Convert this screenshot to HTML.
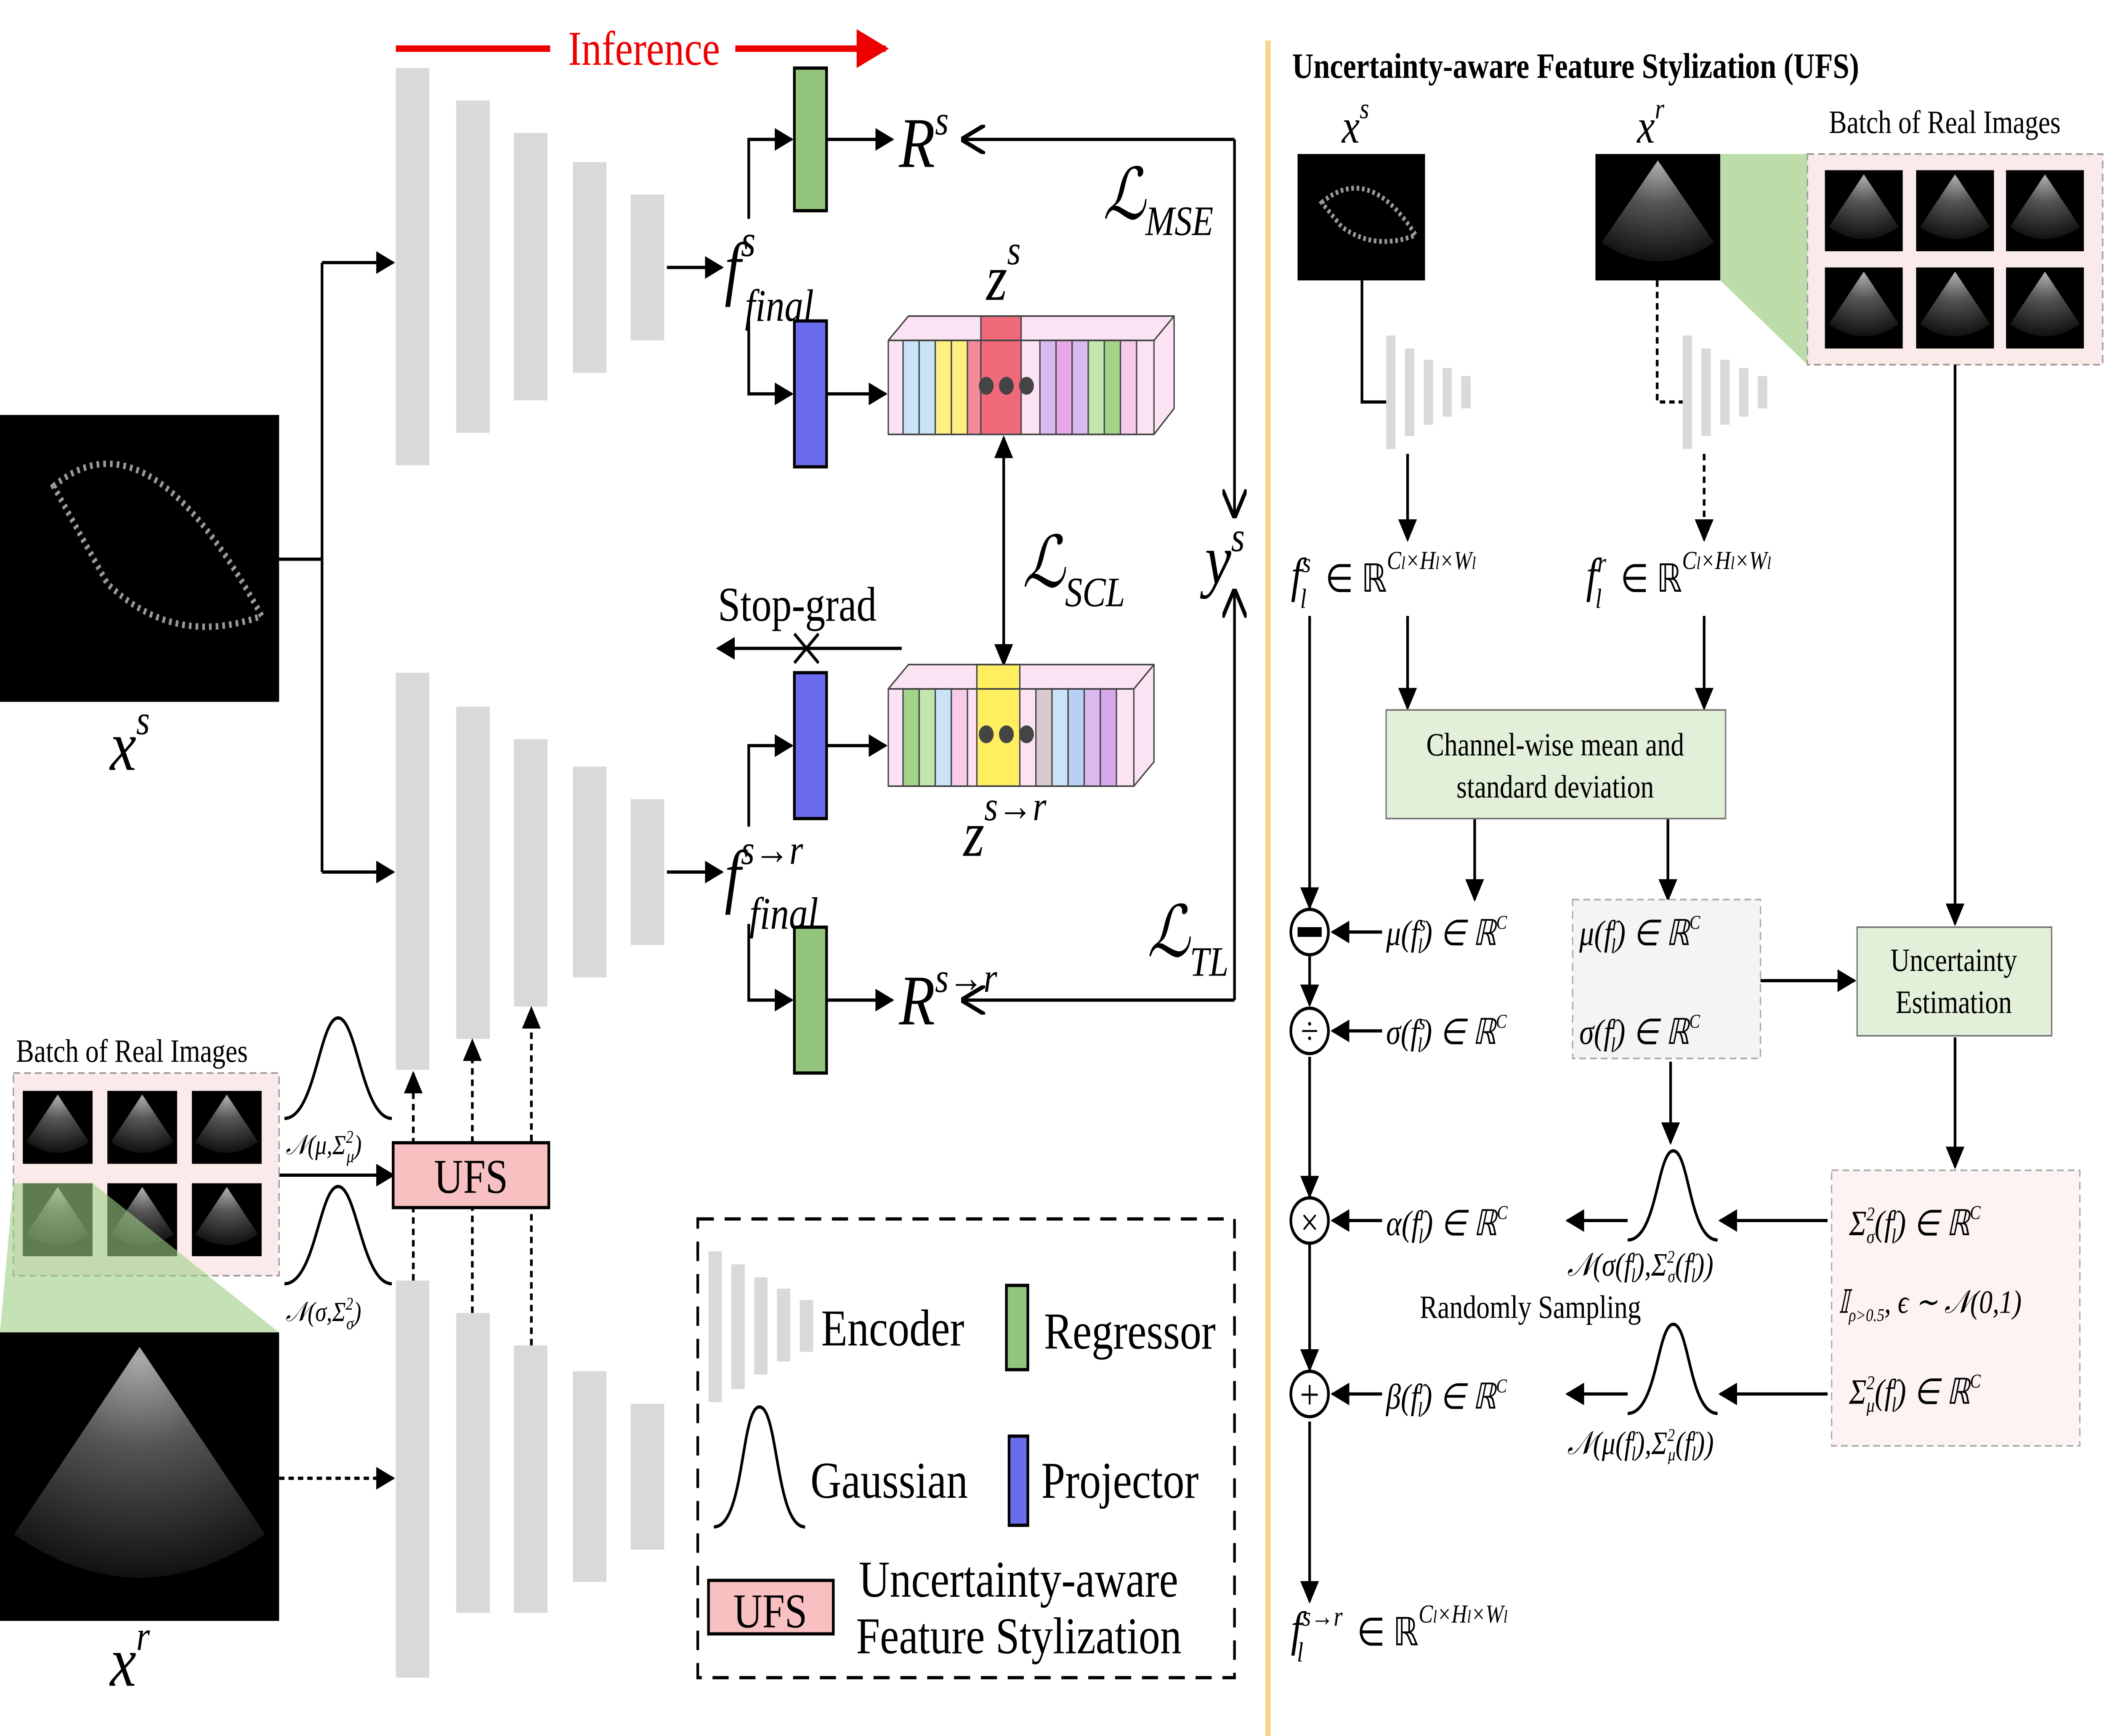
<!DOCTYPE html>
<html><head><meta charset="utf-8"><style>
html,body{margin:0;padding:0;background:#fff;overflow:hidden;width:100%;height:100%;}
svg{display:block;width:100vw;height:100vh;}
text{font-family:"Liberation Serif",serif;fill:#000;}
.it{font-style:italic;}
</style></head><body>
<svg viewBox="0 0 1568 1071" preserveAspectRatio="none" xmlns="http://www.w3.org/2000/svg">
<defs>
<marker id="ah" viewBox="0 0 10 10" refX="9" refY="5" markerWidth="7" markerHeight="7" orient="auto-start-reverse"><path d="M0,0 L10,5 L0,10 z" fill="#000"/></marker>
<marker id="oa" viewBox="0 0 10 10" refX="9" refY="5" markerWidth="9" markerHeight="9" orient="auto-start-reverse"><path d="M0,0 L10,5 L0,10" fill="none" stroke="#000" stroke-width="1.5"/></marker>
<marker id="ra" viewBox="0 0 10 10" refX="9" refY="5" markerWidth="6" markerHeight="6" orient="auto"><path d="M0,0 L10,5 L0,10 z" fill="#e00"/></marker>
<radialGradient id="us" cx="0.5" cy="0.05" r="0.95"><stop offset="0" stop-color="#aaa"/><stop offset="0.4" stop-color="#555"/><stop offset="1" stop-color="#111"/></radialGradient>
<g id="usimg"><rect width="100" height="100" fill="#000"/><path d="M50,5 L5,70 Q50,100 95,70 Z" fill="url(#us)"/></g>
</defs>
<rect width="1568" height="1071" fill="#fff"/>

<g><rect x="0" y="256" width="208" height="177" fill="#000"/><path d="M40,300 Q110,250 195,380 Q130,400 80,360 Z" fill="none" stroke="#999" stroke-width="4" stroke-dasharray="2 3"/></g>
<text x="82" y="475" font-size="44" class="it">x<tspan font-size="26" dy="-22">s</tspan></text>

<g fill="#d9d9d9">
<rect x="295" y="42" width="25" height="245"/><rect x="340" y="62" width="25" height="205"/><rect x="383" y="82" width="25" height="165"/><rect x="427" y="100" width="25" height="130"/><rect x="470" y="120" width="25" height="90"/></g>
<g fill="#d9d9d9">
<rect x="295" y="415" width="25" height="245"/><rect x="340" y="436" width="25" height="205"/><rect x="383" y="456" width="25" height="165"/><rect x="427" y="473" width="25" height="130"/><rect x="470" y="493" width="25" height="90"/></g>
<g fill="#d9d9d9">
<rect x="295" y="790" width="25" height="245"/><rect x="340" y="810" width="25" height="185"/><rect x="383" y="830" width="25" height="165"/><rect x="427" y="846" width="25" height="130"/><rect x="470" y="866" width="25" height="90"/></g>

<line x1="295" y1="30" x2="410" y2="30" stroke="#e00" stroke-width="4"/>
<line x1="548" y1="30" x2="660" y2="30" stroke="#e00" stroke-width="4" marker-end="url(#ra)"/>
<text x="480" y="40" font-size="30" style="fill:#e00" text-anchor="middle">Inference</text>

<g stroke="#000" stroke-width="2" fill="none">
<line x1="208" y1="345" x2="240" y2="345"/>
<line x1="240" y1="162" x2="240" y2="538"/>
<line x1="240" y1="162" x2="293" y2="162" marker-end="url(#ah)"/>
<line x1="240" y1="538" x2="293" y2="538" marker-end="url(#ah)"/>
<line x1="497" y1="165" x2="538" y2="165" marker-end="url(#ah)"/>
<line x1="497" y1="538" x2="538" y2="538" marker-end="url(#ah)"/>
<polyline points="558,135 558,86 590,86" marker-end="url(#ah)"/>
<polyline points="558,195 558,243 590,243" marker-end="url(#ah)"/>
<polyline points="558,510 558,460 590,460" marker-end="url(#ah)"/>
<polyline points="558,570 558,617 590,617" marker-end="url(#ah)"/>
<line x1="616" y1="86" x2="665" y2="86" marker-end="url(#ah)"/>
<line x1="616" y1="243" x2="660" y2="243" marker-end="url(#ah)"/>
<line x1="616" y1="460" x2="660" y2="460" marker-end="url(#ah)"/>
<line x1="616" y1="617" x2="665" y2="617" marker-end="url(#ah)"/>
<polyline points="920,86 718,86" marker-end="url(#oa)"/>
<polyline points="920,86 920,318" marker-end="url(#oa)"/>
<polyline points="920,617 718,617" marker-end="url(#oa)"/>
<polyline points="920,617 920,365" marker-end="url(#oa)"/>
<line x1="748" y1="270" x2="748" y2="410" marker-start="url(#ah)" marker-end="url(#ah)"/>
<line x1="672" y1="400" x2="535" y2="400" marker-end="url(#ah)"/>
<line x1="592" y1="391" x2="610" y2="409"/><line x1="610" y1="391" x2="592" y2="409"/>
<line x1="208" y1="912" x2="293" y2="912" stroke-dasharray="4 3" marker-end="url(#ah)"/>
<line x1="208" y1="725" x2="293" y2="725" marker-end="url(#ah)"/>
<line x1="308" y1="790" x2="308" y2="662" stroke-dasharray="4 3" marker-end="url(#ah)"/>
<line x1="352" y1="810" x2="352" y2="642" stroke-dasharray="4 3" marker-end="url(#ah)"/>
<line x1="396" y1="830" x2="396" y2="622" stroke-dasharray="4 3" marker-end="url(#ah)"/>
</g>

<rect x="592" y="42" width="24" height="88" fill="#92c47c" stroke="#000" stroke-width="2"/>
<rect x="592" y="198" width="24" height="90" fill="#6b6bf0" stroke="#000" stroke-width="2"/>
<rect x="592" y="415" width="24" height="90" fill="#6b6bf0" stroke="#000" stroke-width="2"/>
<rect x="592" y="572" width="24" height="90" fill="#92c47c" stroke="#000" stroke-width="2"/>

<text x="540" y="180" font-size="44" class="it">f<tspan font-size="28" dy="-22">s</tspan><tspan font-size="28" dx="-8" dy="40">final</tspan></text>
<text x="540" y="555" font-size="44" class="it">f<tspan font-size="26" dy="-22">s→r</tspan><tspan font-size="28" dx="-40" dy="40">final</tspan></text>
<text x="670" y="103" font-size="44" class="it">R<tspan font-size="26" dy="-20">s</tspan></text>
<text x="670" y="632" font-size="44" class="it">R<tspan font-size="26" dy="-20">s→r</tspan></text>
<text x="735" y="185" font-size="40" class="it">z<tspan font-size="26" dy="-22">s</tspan></text>
<text x="718" y="528" font-size="40" class="it">z<tspan font-size="26" dy="-22">s→r</tspan></text>
<text x="822" y="135" font-size="44" class="it">ℒ<tspan font-size="26" dy="10">MSE</tspan></text>
<text x="762" y="362" font-size="44" class="it">ℒ<tspan font-size="26" dy="12">SCL</tspan></text>
<text x="855" y="590" font-size="44" class="it">ℒ<tspan font-size="26" dy="12">TL</tspan></text>
<text x="898" y="360" font-size="44" class="it">y<tspan font-size="26" dy="-20">s</tspan></text>
<text x="535" y="383" font-size="30">Stop-grad</text>

<g stroke="#444" stroke-width="1">
<path d="M662,210 L677,195 L875,195 L875,252 L860,268 L662,268 Z" fill="#fbe3f3"/>
<rect x="673" y="210" width="12" height="58" fill="#c9e3f7"/><rect x="685" y="210" width="12" height="58" fill="#c9e3f7"/><rect x="697" y="210" width="12" height="58" fill="#ffef80"/><rect x="709" y="210" width="12" height="58" fill="#ffef80"/><rect x="721" y="210" width="10" height="58" fill="#f38b9a"/>
<rect x="731" y="195" width="30" height="73" fill="#f06a7a"/>
<rect x="775" y="210" width="12" height="58" fill="#dab8f0"/><rect x="787" y="210" width="12" height="58" fill="#e6a8e6"/><rect x="799" y="210" width="12" height="58" fill="#dab8f0"/><rect x="811" y="210" width="12" height="58" fill="#c3e5b0"/><rect x="823" y="210" width="12" height="58" fill="#a3d48a"/><rect x="835" y="210" width="12" height="58" fill="#f8cce8"/>
<path d="M662,210 L860,210 L875,195 M860,210 L860,268" fill="none"/>
<circle cx="735" cy="238" r="5" fill="#444"/><circle cx="750" cy="238" r="5" fill="#444"/><circle cx="765" cy="238" r="5" fill="#444"/>
</g>
<g stroke="#444" stroke-width="1">
<path d="M662,425 L677,410 L860,410 L860,470 L845,485 L662,485 Z" fill="#fbe3f3"/>
<rect x="673" y="425" width="12" height="60" fill="#a3d48a"/><rect x="685" y="425" width="12" height="60" fill="#c3e5b0"/><rect x="697" y="425" width="12" height="60" fill="#c9e3f7"/><rect x="709" y="425" width="12" height="60" fill="#f8cce8"/>
<rect x="728" y="410" width="32" height="75" fill="#ffef60"/>
<rect x="772" y="425" width="12" height="60" fill="#d8c8d0"/><rect x="784" y="425" width="12" height="60" fill="#c9e3f7"/><rect x="796" y="425" width="12" height="60" fill="#b8d0f5"/><rect x="808" y="425" width="12" height="60" fill="#dab8f0"/><rect x="820" y="425" width="12" height="60" fill="#d8a8ec"/>
<path d="M662,425 L845,425 L860,410 M845,425 L845,485" fill="none"/>
<circle cx="735" cy="453" r="5" fill="#444"/><circle cx="750" cy="453" r="5" fill="#444"/><circle cx="765" cy="453" r="5" fill="#444"/>
</g>

<text x="12" y="655" font-size="20">Batch of Real Images</text>
<rect x="10" y="662" width="198" height="125" fill="#fbeaea" stroke="#999" stroke-dasharray="5 3"/>
<g>
<use href="#usimg" transform="translate(17,673) scale(0.52,0.45)"/><use href="#usimg" transform="translate(80,673) scale(0.52,0.45)"/><use href="#usimg" transform="translate(143,673) scale(0.52,0.45)"/>
<use href="#usimg" transform="translate(17,730) scale(0.52,0.45)"/><use href="#usimg" transform="translate(80,730) scale(0.52,0.45)"/><use href="#usimg" transform="translate(143,730) scale(0.52,0.45)"/>
</g>
<path d="M10,730 L69,730 L208,822 L0,822 Z" fill="#9fcf85" opacity="0.6"/>
<use href="#usimg" transform="translate(0,822) scale(2.08,1.78)"/>
<text x="82" y="1040" font-size="44" class="it">x<tspan font-size="26" dy="-22">r</tspan></text>

<path d="M212,690 C235,690 238,628 252,628 C266,628 270,690 292,690" fill="none" stroke="#000" stroke-width="2"/>
<path d="M212,792 C235,792 238,732 252,732 C266,732 270,792 292,792" fill="none" stroke="#000" stroke-width="2"/>
<text x="213" y="712" font-size="17" class="it">𝒩(μ,Σ<tspan font-size="11" dy="-7">2</tspan><tspan font-size="11" dy="12" dx="-5">μ</tspan><tspan dy="-5">)</tspan></text>
<text x="213" y="815" font-size="17" class="it">𝒩(σ,Σ<tspan font-size="11" dy="-7">2</tspan><tspan font-size="11" dy="12" dx="-5">σ</tspan><tspan dy="-5">)</tspan></text>
<rect x="293" y="705" width="116" height="40" fill="#f8c0c0" stroke="#000" stroke-width="2"/>
<text x="351" y="736" font-size="30" text-anchor="middle">UFS</text>

<g>
<rect x="520" y="752" width="400" height="283" fill="none" stroke="#000" stroke-width="2" stroke-dasharray="12 8"/>
<g fill="#d9d9d9"><rect x="528" y="772" width="10" height="93"/><rect x="545" y="780" width="10" height="77"/><rect x="562" y="788" width="10" height="60"/><rect x="579" y="795" width="10" height="45"/><rect x="596" y="802" width="10" height="32"/></g>
<text x="612" y="830" font-size="32">Encoder</text>
<rect x="750" y="793" width="16" height="52" fill="#92c47c" stroke="#000" stroke-width="2"/>
<text x="778" y="832" font-size="32">Regressor</text>
<path d="M532,942 C555,942 552,868 566,868 C580,868 578,942 600,942" fill="none" stroke="#000" stroke-width="2"/>
<text x="604" y="924" font-size="32">Gaussian</text>
<rect x="752" y="886" width="14" height="55" fill="#6b6bf0" stroke="#000" stroke-width="2"/>
<text x="776" y="924" font-size="32">Projector</text>
<rect x="528" y="975" width="93" height="33" fill="#f8c0c0" stroke="#000" stroke-width="2"/>
<text x="574" y="1004" font-size="30" text-anchor="middle">UFS</text>
<text x="640" y="985" font-size="32">Uncertainty-aware</text>
<text x="638" y="1020" font-size="32">Feature Stylization</text>
</g>

<line x1="945" y1="25" x2="945" y2="1071" stroke="#f5d58a" stroke-width="4"/>

<text x="963" y="48" font-size="22" font-weight="bold">Uncertainty-aware Feature Stylization (UFS)</text>
<text x="1000" y="88" font-size="30" class="it">x<tspan font-size="18" dy="-15">s</tspan></text>
<text x="1220" y="88" font-size="30" class="it">x<tspan font-size="18" dy="-15">r</tspan></text>
<text x="1363" y="82" font-size="20">Batch of Real Images</text>
<g><rect x="967" y="95" width="95" height="78" fill="#000"/><path d="M985,125 Q1020,100 1055,145 Q1025,155 1000,140 Z" fill="none" stroke="#999" stroke-width="3" stroke-dasharray="2 2"/></g>
<use href="#usimg" transform="translate(1189,95) scale(0.93,0.78)"/>
<path d="M1282,95 L1347,95 L1347,225 L1282,173 Z" fill="#9fcf85" opacity="0.7"/>
<rect x="1347" y="95" width="220" height="130" fill="#fbeaea" stroke="#999" stroke-dasharray="5 3"/>
<g>
<use href="#usimg" transform="translate(1360,105) scale(0.58,0.5)"/><use href="#usimg" transform="translate(1428,105) scale(0.58,0.5)"/><use href="#usimg" transform="translate(1495,105) scale(0.58,0.5)"/>
<use href="#usimg" transform="translate(1360,165) scale(0.58,0.5)"/><use href="#usimg" transform="translate(1428,165) scale(0.58,0.5)"/><use href="#usimg" transform="translate(1495,165) scale(0.58,0.5)"/>
</g>
<g fill="#d9d9d9"><rect x="1033" y="207" width="7" height="70"/><rect x="1047" y="215" width="7" height="54"/><rect x="1061" y="222" width="7" height="40"/><rect x="1075" y="227" width="7" height="30"/><rect x="1089" y="232" width="7" height="20"/>
<rect x="1254" y="207" width="7" height="70"/><rect x="1268" y="215" width="7" height="54"/><rect x="1282" y="222" width="7" height="40"/><rect x="1296" y="227" width="7" height="30"/><rect x="1310" y="232" width="7" height="20"/></g>
<g stroke="#000" stroke-width="2" fill="none">
<polyline points="1015,173 1015,248 1033,248"/>
<polyline points="1235,173 1235,248 1254,248" stroke-dasharray="4 3"/>
<line x1="1049" y1="280" x2="1049" y2="333" marker-end="url(#ah)"/>
<line x1="1270" y1="280" x2="1270" y2="333" stroke-dasharray="4 3" marker-end="url(#ah)"/>
<line x1="1049" y1="380" x2="1049" y2="437" marker-end="url(#ah)"/>
<line x1="1270" y1="380" x2="1270" y2="437" marker-end="url(#ah)"/>
<line x1="1457" y1="225" x2="1457" y2="570" marker-end="url(#ah)"/>
<line x1="1099" y1="505" x2="1099" y2="555" marker-end="url(#ah)"/>
<line x1="1243" y1="505" x2="1243" y2="555" marker-end="url(#ah)"/>
<line x1="976" y1="380" x2="976" y2="560" marker-end="url(#ah)"/>
<line x1="976" y1="590" x2="976" y2="620" marker-end="url(#ah)"/>
<line x1="976" y1="652" x2="976" y2="738" marker-end="url(#ah)"/>
<line x1="976" y1="768" x2="976" y2="845" marker-end="url(#ah)"/>
<line x1="976" y1="877" x2="976" y2="988" marker-end="url(#ah)"/>
<line x1="1030" y1="575" x2="993" y2="575" marker-end="url(#ah)"/>
<line x1="1030" y1="636" x2="993" y2="636" marker-end="url(#ah)"/>
<line x1="1030" y1="753" x2="993" y2="753" marker-end="url(#ah)"/>
<line x1="1030" y1="860" x2="993" y2="860" marker-end="url(#ah)"/>
<line x1="1312" y1="605" x2="1382" y2="605" marker-end="url(#ah)"/>
<line x1="1245" y1="655" x2="1245" y2="705" marker-end="url(#ah)"/>
<line x1="1457" y1="640" x2="1457" y2="720" marker-end="url(#ah)"/>
<line x1="1362" y1="753" x2="1282" y2="753" marker-end="url(#ah)"/>
<line x1="1362" y1="860" x2="1282" y2="860" marker-end="url(#ah)"/>
<line x1="1213" y1="753" x2="1168" y2="753" marker-end="url(#ah)"/>
<line x1="1213" y1="860" x2="1168" y2="860" marker-end="url(#ah)"/>
<path d="M1213,765 C1235,765 1235,710 1247,710 C1259,710 1259,765 1280,765"/>
<path d="M1213,872 C1235,872 1235,817 1247,817 C1259,817 1259,872 1280,872"/>
<circle cx="976" cy="575" r="14"/><circle cx="976" cy="636" r="14"/><circle cx="976" cy="753" r="14"/><circle cx="976" cy="860" r="14"/>
</g>
<rect x="967" y="572" width="18" height="6" fill="#000"/>
<text x="976" y="644" font-size="24" text-anchor="middle">÷</text>
<text x="976" y="762" font-size="24" text-anchor="middle">×</text>
<text x="976" y="869" font-size="26" text-anchor="middle">+</text>

<text x="962" y="365" font-size="30" class="it">f<tspan font-size="17" dy="-12">s</tspan><tspan font-size="17" dx="-8" dy="22">l</tspan><tspan dx="14" dy="-10" font-style="normal" font-size="24">∈ ℝ</tspan><tspan font-size="16" dy="-14">C</tspan><tspan font-size="11">l</tspan><tspan font-size="16">×H</tspan><tspan font-size="11">l</tspan><tspan font-size="16">×W</tspan><tspan font-size="11">l</tspan></text>
<text x="1182" y="365" font-size="30" class="it">f<tspan font-size="17" dy="-12">r</tspan><tspan font-size="17" dx="-8" dy="22">l</tspan><tspan dx="14" dy="-10" font-style="normal" font-size="24">∈ ℝ</tspan><tspan font-size="16" dy="-14">C</tspan><tspan font-size="11">l</tspan><tspan font-size="16">×H</tspan><tspan font-size="11">l</tspan><tspan font-size="16">×W</tspan><tspan font-size="11">l</tspan></text>

<rect x="1033" y="438" width="253" height="67" fill="#e2efd9" stroke="#777"/>
<text x="1159" y="466" font-size="20" text-anchor="middle">Channel-wise mean and</text>
<text x="1159" y="492" font-size="20" text-anchor="middle">standard deviation</text>

<rect x="1172" y="555" width="140" height="98" fill="#f4f4f4" stroke="#aaa" stroke-dasharray="5 3"/>
<text x="1033" y="583" font-size="22" class="it">μ(f<tspan font-size="13" dy="-9">s</tspan><tspan font-size="13" dx="-6" dy="14">l</tspan><tspan dy="-5">) ∈ ℝ</tspan><tspan font-size="12" dy="-10">C</tspan></text>
<text x="1033" y="644" font-size="22" class="it">σ(f<tspan font-size="13" dy="-9">s</tspan><tspan font-size="13" dx="-6" dy="14">l</tspan><tspan dy="-5">) ∈ ℝ</tspan><tspan font-size="12" dy="-10">C</tspan></text>
<text x="1177" y="583" font-size="22" class="it">μ(f<tspan font-size="13" dy="-9">r</tspan><tspan font-size="13" dx="-6" dy="14">l</tspan><tspan dy="-5">) ∈ ℝ</tspan><tspan font-size="12" dy="-10">C</tspan></text>
<text x="1177" y="644" font-size="22" class="it">σ(f<tspan font-size="13" dy="-9">r</tspan><tspan font-size="13" dx="-6" dy="14">l</tspan><tspan dy="-5">) ∈ ℝ</tspan><tspan font-size="12" dy="-10">C</tspan></text>

<rect x="1384" y="572" width="145" height="67" fill="#e2efd9" stroke="#777"/>
<text x="1456" y="599" font-size="20" text-anchor="middle">Uncertainty</text>
<text x="1456" y="625" font-size="20" text-anchor="middle">Estimation</text>

<rect x="1365" y="722" width="185" height="170" fill="#fdf3f3" stroke="#aaa" stroke-dasharray="5 3"/>
<text x="1378" y="762" font-size="22" class="it">Σ<tspan font-size="12" dy="-9">2</tspan><tspan font-size="12" dx="-6" dy="14">σ</tspan><tspan dy="-5">(f</tspan><tspan font-size="13" dy="-9">r</tspan><tspan font-size="13" dx="-6" dy="14">l</tspan><tspan dy="-5">) ∈ ℝ</tspan><tspan font-size="12" dy="-10">C</tspan></text>
<text x="1370" y="810" font-size="20" class="it">𝕀<tspan font-size="11" dy="5">ρ&gt;0.5</tspan><tspan dy="-5">, ϵ ∼ 𝒩(0,1)</tspan></text>
<text x="1378" y="866" font-size="22" class="it">Σ<tspan font-size="12" dy="-9">2</tspan><tspan font-size="12" dx="-6" dy="14">μ</tspan><tspan dy="-5">(f</tspan><tspan font-size="13" dy="-9">r</tspan><tspan font-size="13" dx="-6" dy="14">l</tspan><tspan dy="-5">) ∈ ℝ</tspan><tspan font-size="12" dy="-10">C</tspan></text>

<text x="1033" y="762" font-size="22" class="it">α(f<tspan font-size="13" dy="-9">r</tspan><tspan font-size="13" dx="-6" dy="14">l</tspan><tspan dy="-5">) ∈ ℝ</tspan><tspan font-size="12" dy="-10">C</tspan></text>
<text x="1033" y="869" font-size="22" class="it">β(f<tspan font-size="13" dy="-9">r</tspan><tspan font-size="13" dx="-6" dy="14">l</tspan><tspan dy="-5">) ∈ ℝ</tspan><tspan font-size="12" dy="-10">C</tspan></text>
<text x="1168" y="787" font-size="20" class="it">𝒩(σ(f<tspan font-size="12" dy="-8">r</tspan><tspan font-size="12" dx="-5" dy="12">l</tspan><tspan dy="-4">),Σ</tspan><tspan font-size="11" dy="-8">2</tspan><tspan font-size="11" dx="-5" dy="12">σ</tspan><tspan dy="-4">(f</tspan><tspan font-size="12" dy="-8">r</tspan><tspan font-size="12" dx="-5" dy="12">l</tspan><tspan dy="-4">))</tspan></text>
<text x="1058" y="813" font-size="20">Randomly Sampling</text>
<text x="1168" y="897" font-size="20" class="it">𝒩(μ(f<tspan font-size="12" dy="-8">r</tspan><tspan font-size="12" dx="-5" dy="12">l</tspan><tspan dy="-4">),Σ</tspan><tspan font-size="11" dy="-8">2</tspan><tspan font-size="11" dx="-5" dy="12">μ</tspan><tspan dy="-4">(f</tspan><tspan font-size="12" dy="-8">r</tspan><tspan font-size="12" dx="-5" dy="12">l</tspan><tspan dy="-4">))</tspan></text>

<text x="962" y="1015" font-size="30" class="it">f<tspan font-size="17" dy="-12">s→r</tspan><tspan font-size="17" dx="-34" dy="22">l</tspan><tspan dx="40" dy="-10" font-style="normal" font-size="24">∈ ℝ</tspan><tspan font-size="16" dy="-14">C</tspan><tspan font-size="11">l</tspan><tspan font-size="16">×H</tspan><tspan font-size="11">l</tspan><tspan font-size="16">×W</tspan><tspan font-size="11">l</tspan></text>
</svg>
</body></html>
